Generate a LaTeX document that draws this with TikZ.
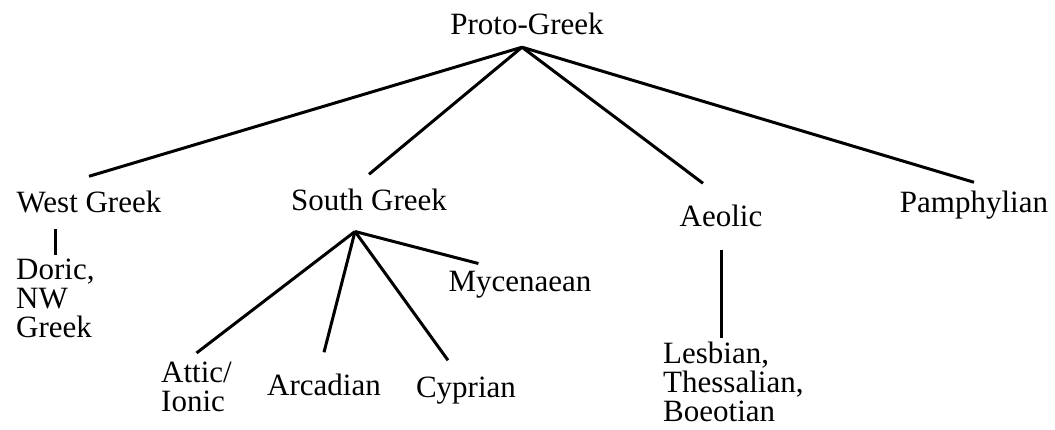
\documentclass[tikz,border=0pt]{standalone}
\usepackage{fontspec}
\setmainfont{Liberation Serif}
\usetikzlibrary{positioning, calc}

\begin{document}
\begin{tikzpicture}[x=1pt, y=-1pt]
  \newcommand\langsize{31}
  \newcommand\langskip{29}
  \newcommand\edgewidth{3pt}

  \tikzset{edge/.style={line width=\edgewidth}}
  \tikzset{lang/.style={font=\fontsize{\langsize}{\langskip}\selectfont, inner sep=0pt}}
  \tikzset{branchlang/.style={lang, anchor=base, inner ysep=15pt}}
  \tikzset{leaflang/.style={lang, anchor=base, inner ysep=8pt}}
  \tikzset{multilang/.style={lang, align=left, anchor=north west}}

  \useasboundingbox (0, 0) rectangle (1055, 430);

  % root
  \node[lang, anchor=base, text depth=12pt] (proto) at (527, 35) {Proto-Greek};
  \coordinate (pgroot) at ([xshift=-5pt]proto.south);

  % branches
  \node[branchlang] (west) at (89, 213) {West Greek};
  \node[branchlang] (sgreek) at (369, 211) {South Greek};
  \node[branchlang, inner ysep=22pt] (aeolic) at (721, 227) {Aeolic};
  \node[branchlang, inner ysep=9pt] (pamph) at (974, 213) {Pamphylian};

  \foreach \tgt in {{(west.north)}, {(sgreek.north)}, {([xshift=-18pt]aeolic.north)}, {(pamph.north)}}{
    \draw[edge] (pgroot) -- \tgt;
  }

  % west greek
  \node[multilang, inner ysep=4pt] (doric) at (16, 255) {Doric,\\NW\\Greek};
  \draw[edge] (doric.north) -- (doric.north |- west.south);

  % south greek
  \coordinate (sgroot) at ([xshift=-14pt, yshift=-5pt]sgreek.south);
  \node[multilang, inner ysep=9pt] (attic) at (161, 353) {Attic/\\Ionic};
  \node[leaflang, inner ysep=21pt] (arcad) at (324, 395) {Arcadian};
  \node[leaflang, inner ysep=16pt] (cypr) at (466, 397) {Cyprian};
  \node[leaflang] (myc) at (520, 292) {Mycenaean};

  \foreach \tgt in {{(attic.north)}, {(arcad.north)}, {([xshift=-18pt]cypr.north)}, {([xshift=30pt]myc.north west)}}{
    \draw[edge] (sgroot) -- \tgt;
  }

  % aeolic
  \node[multilang, inner ysep=4pt] (lesb) at (663, 338) {Lesbian,\\Thessalian,\\Boeotian};
  \draw[edge] (aeolic.south) -- (aeolic.south |- lesb.north);
\end{tikzpicture}
\end{document}
